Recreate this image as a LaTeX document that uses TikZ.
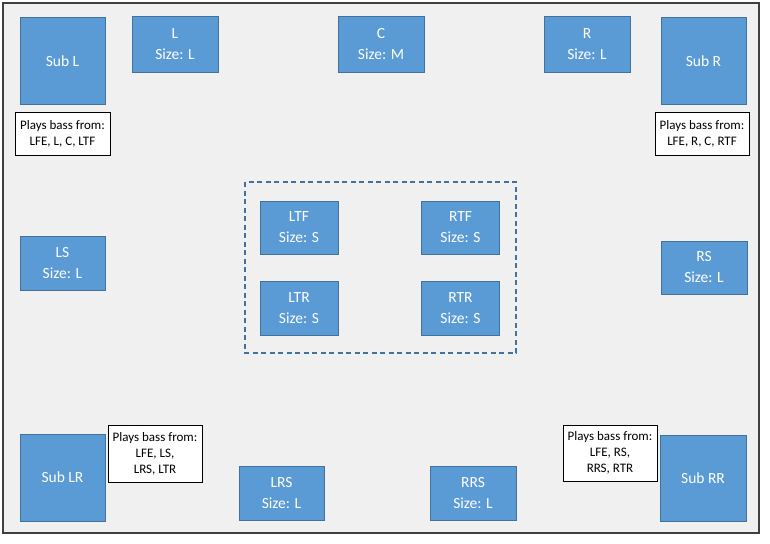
\documentclass[tikz,border=0pt]{standalone}
\usepackage{fontspec}
\setmainfont{Carlito}
\definecolor{spkblue}{RGB}{91,155,213}
\definecolor{spkedge}{RGB}{65,113,156}
\definecolor{roomgray}{RGB}{240,240,240}
\tikzset{
	spk/.style={draw=spkedge,line width=1pt,fill=spkblue,text=white,align=center,
		font=\fontsize{15.5}{21}\selectfont,inner sep=0pt},
	bassnote/.style={draw=black,line width=0.9pt,fill=white,align=center,
		font=\fontsize{13}{16}\selectfont,inner sep=0pt}
}

\begin{document}
\begin{tikzpicture}[x=1pt,y=-1pt,line join=miter]
		\useasboundingbox (0,0) rectangle (770,543);
		\fill[white] (0,0) rectangle (770,543);
		% room
		\draw[line width=1.5pt,draw={rgb,255:red,64;green,64;blue,64},fill=roomgray] (3,3) rectangle (759,533);
		\draw[line width=1.3pt,draw=spkedge,dash pattern=on 5pt off 3.5pt] (245,182) rectangle (516,353);
		% front row
		\node[spk,minimum width=85pt,minimum height=86pt] (subL) at (62.5,61) {Sub L};
		\node[spk,minimum width=86pt,minimum height=55pt] (L) at (175,44.5) {L\\Size: L};
		\node[spk,minimum width=86pt,minimum height=55pt] (C) at (381,44.5) {C\\Size: M};
		\node[spk,minimum width=86pt,minimum height=55pt] (R) at (587,44.5) {R\\Size: L};
		\node[spk,minimum width=85pt,minimum height=86pt] (subR) at (703.5,61) {Sub R};
		\node[bassnote,minimum width=95pt,minimum height=43pt] (noteL) at (62.5,133.5) {Plays bass from:\\LFE, L, C, LTF};
		\node[bassnote,minimum width=94pt,minimum height=43pt] (noteR) at (702,133.5) {Plays bass from:\\LFE, R, C, RTF};
		% top speakers
		\node[spk,minimum width=78pt,minimum height=53pt] (LTF) at (299,227.5) {LTF\\Size: S};
		\node[spk,minimum width=78pt,minimum height=53pt] (RTF) at (460.5,227.5) {RTF\\Size: S};
		\node[spk,minimum width=78pt,minimum height=54pt] (LTR) at (299,308) {LTR\\Size: S};
		\node[spk,minimum width=78pt,minimum height=54pt] (RTR) at (460.5,308) {RTR\\Size: S};
		% sides
		\node[spk,minimum width=85pt,minimum height=54pt] (LS) at (62.5,263) {LS\\Size: L};
		\node[spk,minimum width=86pt,minimum height=53pt] (RS) at (704,267.5) {RS\\Size: L};
		% rear row
		\node[spk,minimum width=85pt,minimum height=87pt] (subLR) at (62.5,477.5) {Sub LR};
		\node[bassnote,minimum width=94pt,minimum height=57pt] (noteLR) at (155,453.5) {Plays bass from:\\LFE, LS,\\LRS, LTR};
		\node[spk,minimum width=85pt,minimum height=54pt] (LRS) at (281.5,493) {LRS\\Size: L};
		\node[spk,minimum width=86pt,minimum height=54pt] (RRS) at (473,493) {RRS\\Size: L};
		\node[bassnote,minimum width=94pt,minimum height=56pt] (noteRR) at (610,453) {Plays bass from:\\LFE, RS,\\RRS, RTR};
		\node[spk,minimum width=86pt,minimum height=86pt] (subRR) at (703,478) {Sub RR};
	\end{tikzpicture}
\end{document}
